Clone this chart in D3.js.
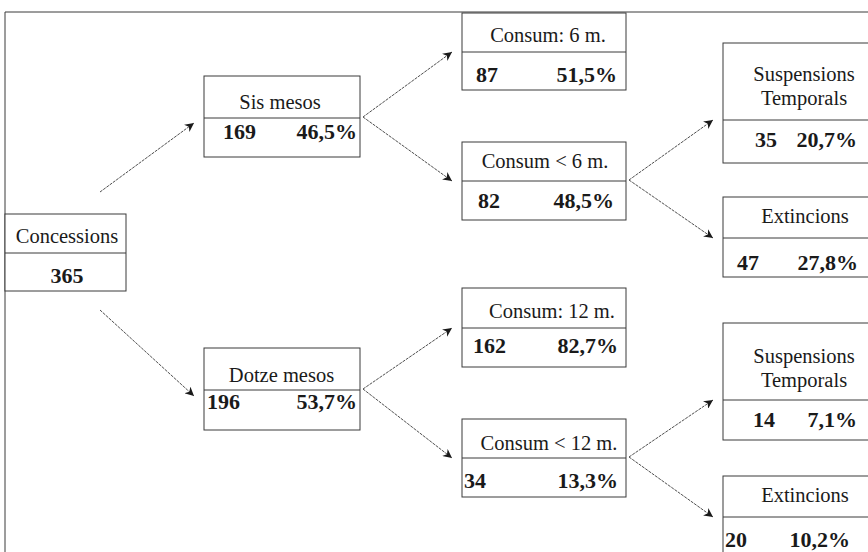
<!DOCTYPE html>
<html>
<head>
<meta charset="utf-8">
<script src="https://cdn.jsdelivr.net/npm/d3@7"></script>
<style>
  html, body { margin: 0; padding: 0; background: #fff; }
  svg { display: block; }
  text { font-family: "Liberation Serif", "Times New Roman", Tinos, "DejaVu Serif", serif; }
</style>
</head>
<body>
<svg id="chart" width="868" height="552"></svg>
<script>
// ---- data ----
const ids      = ["root","six","twelve","c6","c6less","suspA","extA","c12","c12less","suspB","extB"];
const parents  = [null,"root","root","six","six","c6less","c6less","twelve","twelve","c12less","c12less"];
const labels   = ["Concessions","Sis mesos","Dotze mesos","Consum: 6 m.","Consum < 6 m.",
                  "Suspensions|Temporals","Extincions","Consum: 12 m.","Consum < 12 m.",
                  "Suspensions|Temporals","Extincions"];
const counts   = [365,169,196,87,82,35,47,162,34,14,20];
const percents = ["","46,5%","53,7%","51,5%","48,5%","20,7%","27,8%","82,7%","13,3%","7,1%","10,2%"];

// ---- layout (positions/sizes, kept apart from the data) ----
const columnX = d3.scaleOrdinal().domain([0,1,2,3]).range([5,204,462,723]);
const columnW = d3.scaleOrdinal().domain([0,1,2,3]).range([121,156,164,162]);
// top, height, divider offset, label baselines, label centre offset, number baseline,
// number left pad, percent right pad
const boxLayout = {
  root:    {top:214, h:77,  div:39, lab:[29],    lx:62,   ny:69,  np:0,  pp:0},
  six:     {top:76,  h:81,  div:42, lab:[33],    lx:76,   ny:63,  np:19, pp:3},
  twelve:  {top:348, h:82,  div:42, lab:[34],    lx:77.5, ny:61,  np:3,  pp:3},
  c6:      {top:13,  h:77,  div:39, lab:[29],    lx:86,   ny:69,  np:14, pp:9},
  c6less:  {top:142, h:78,  div:39, lab:[26],    lx:83,   ny:66,  np:16, pp:12},
  suspA:   {top:43,  h:120, div:77, lab:[38,62], lx:81,   ny:104, np:32, pp:28},
  extA:    {top:197, h:80,  div:41, lab:[26],    lx:82,   ny:73,  np:14, pp:27},
  c12:     {top:288, h:79,  div:40, lab:[30],    lx:90,   ny:65,  np:11, pp:8},
  c12less: {top:419, h:78,  div:39, lab:[31],    lx:87,   ny:69,  np:2,  pp:8},
  suspB:   {top:323, h:117, div:77, lab:[40,64], lx:81,   ny:104, np:30, pp:28},
  extB:    {top:476, h:80,  div:41, lab:[26],    lx:82,   ny:71,  np:2,  pp:35}
};

const svg = d3.select("#chart");
const W = 868, H = 552;
const ink = "#1a1a1a", lineCol = "#3a3a3a";

const table = ids.map((id,i)=>({id, parent:parents[i], label:labels[i], count:counts[i], pct:percents[i]}));
const root = d3.stratify().id(d=>d.id).parentId(d=>d.parent)(table);
root.each(n=>{
  const L = boxLayout[n.id];
  n.bx = columnX(n.depth); n.bw = columnW(n.depth);
  n.by = L.top; n.bh = L.h; n.bd = L.top + L.div;
  n.L = L;
});

// outer frame
svg.append("line").attr("x1",5).attr("y1",12).attr("x2",W).attr("y2",12)
  .attr("stroke",lineCol).attr("stroke-width",1);
svg.append("line").attr("x1",5).attr("y1",12).attr("x2",5).attr("y2",H)
  .attr("stroke",lineCol).attr("stroke-width",1);

// arrow marker
svg.append("defs").append("marker")
  .attr("id","arr").attr("viewBox","0 0 10 10").attr("refX",10).attr("refY",5)
  .attr("markerWidth",10).attr("markerHeight",9).attr("markerUnits","userSpaceOnUse")
  .attr("orient","auto")
  .append("path").attr("d","M0,0 L10,5 L0,10 L3,5 Z").attr("fill",ink);

// links
svg.append("g").selectAll("line").data(root.links()).join("line")
  .attr("x1",d=> d.source.depth===0 ? d.source.bx + 95 : d.source.bx + d.source.bw + 3)
  .attr("y1",d=>{
    if (d.source.depth===0) return d.target.bd < d.source.bd ? d.source.by - 22 : d.source.by + d.source.bh + 19;
    return d.source.bd - 1;
  })
  .attr("x2",d=>d.target.bx - 10)
  .attr("y2",d=> d.source.depth===0 ? d.target.bd + (d.target.bd < d.source.bd ? 5 : 6) : d.target.bd)
  .attr("stroke",lineCol).attr("stroke-width",0.9)
  .attr("stroke-dasharray","3,1")
  .attr("marker-end","url(#arr)");

// boxes
const nodes = svg.append("g").selectAll("g").data(root.descendants()).join("g");
nodes.append("rect")
  .attr("x",d=>d.bx).attr("y",d=>d.by).attr("width",d=>d.bw).attr("height",d=>d.bh)
  .attr("fill","#fff").attr("stroke",lineCol).attr("stroke-width",1);
nodes.append("line")
  .attr("x1",d=>d.bx).attr("x2",d=>d.bx+d.bw)
  .attr("y1",d=>d.bd).attr("y2",d=>d.bd)
  .attr("stroke",lineCol).attr("stroke-width",1);

// texts
nodes.each(function(d){
  const g = d3.select(this);
  const L = d.L;
  d.data.label.split("|").forEach((p,i)=>{
    g.append("text").attr("x",d.bx + L.lx).attr("y",d.by + L.lab[i])
      .attr("text-anchor","middle")
      .attr("font-size",20.5).attr("fill",ink)
      .text(p);
  });
  const ny = d.by + L.ny;
  if (d.depth===0) {
    g.append("text").attr("x",d.bx + 62).attr("y",ny)
      .attr("text-anchor","middle")
      .attr("font-weight","bold").attr("font-size",22).attr("fill",ink)
      .text(d.data.count);
  } else {
    g.append("text").attr("x",d.bx + L.np).attr("y",ny)
      .attr("font-weight","bold").attr("font-size",22).attr("fill",ink)
      .text(d.data.count);
    g.append("text").attr("x",d.bx + d.bw - L.pp).attr("y",ny)
      .attr("text-anchor","end")
      .attr("font-weight","bold").attr("font-size",22).attr("fill",ink)
      .text(d.data.pct);
  }
});
</script>
</body>
</html>
